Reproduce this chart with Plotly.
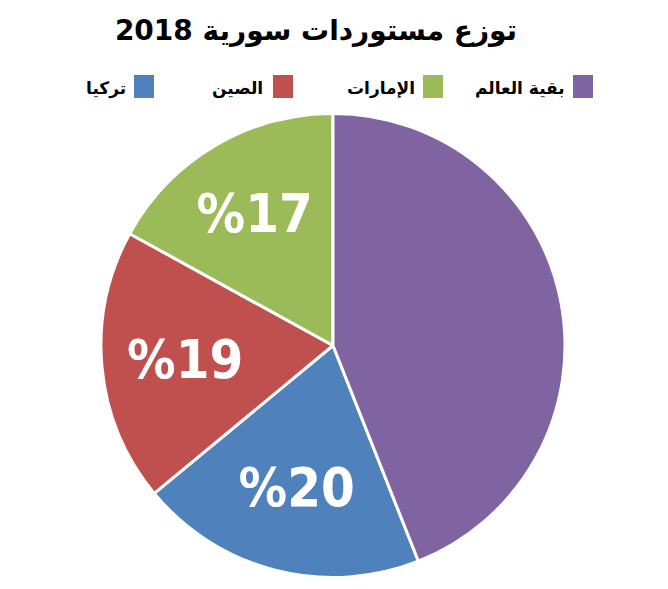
import plotly.graph_objects as go

# data
countries = ['تركيا', 'الصين', 'الإمارات', 'بقية العالم']
shares = [20, 19, 17, 44]
slice_labels = ['%20', '%19', '%17', '']
colors = ['#4F81BD', '#C0504D', '#9BBB59', '#8064A2']

# page body adds an 8px margin, so the figure is drawn 8px smaller
W, H = 660, 581
L, R, T, B = 93, 103, 105, 11
PW, PH = W - L - R, H - T - B


def px(x, y):
    # screen pixel -> paper coords
    return (x - 8 - L) / PW, 1 - (y - 8 - T) / PH


# "rest of world" slice starts at 12 o'clock, others follow clockwise after it
rot = 360.0 * shares[-1] / sum(shares)

fig = go.Figure()
fig.add_trace(go.Pie(
    labels=countries, values=shares, text=slice_labels,
    textinfo='text', textposition='inside', insidetextorientation='horizontal',
    sort=False, direction='clockwise', rotation=rot,
    marker=dict(colors=colors, line=dict(color='white', width=3)),
    textfont=dict(family='DejaVu Sans Condensed', size=54, color='white', weight='bold'),
    hoverinfo='label+percent', showlegend=False,
))

# legend drawn right-to-left, square to the right of each name
sq_left = [134, 273, 423, 573]
txt_right = [128, 265, 417, 567]
for name, col, sx, tx in zip(countries, colors, sq_left, txt_right):
    x0, y1 = px(sx, 75)
    x1, y0 = px(sx + 20, 98)
    fig.add_shape(type='rect', xref='paper', yref='paper',
                  x0=x0, x1=x1, y0=y0, y1=y1,
                  fillcolor=col, line=dict(width=0))
    ax, ay = px(tx, 88)
    fig.add_annotation(text=name, xref='paper', yref='paper', x=ax, y=ay,
                       xanchor='right', yanchor='middle', showarrow=False,
                       font=dict(family='DejaVu Sans', size=17, color='black', weight='bold'))

fig.update_layout(
    width=W, height=H,
    title=dict(text='توزع مستوردات سورية 2018', x=308 / W, xanchor='center',
               y=1 - 22 / H, yanchor='middle',
               font=dict(family='DejaVu Sans', size=28, color='black', weight='bold')),
    margin=dict(l=L, r=R, t=T, b=B),
    paper_bgcolor='white', plot_bgcolor='white',
)

fig.write_html('out.html')
